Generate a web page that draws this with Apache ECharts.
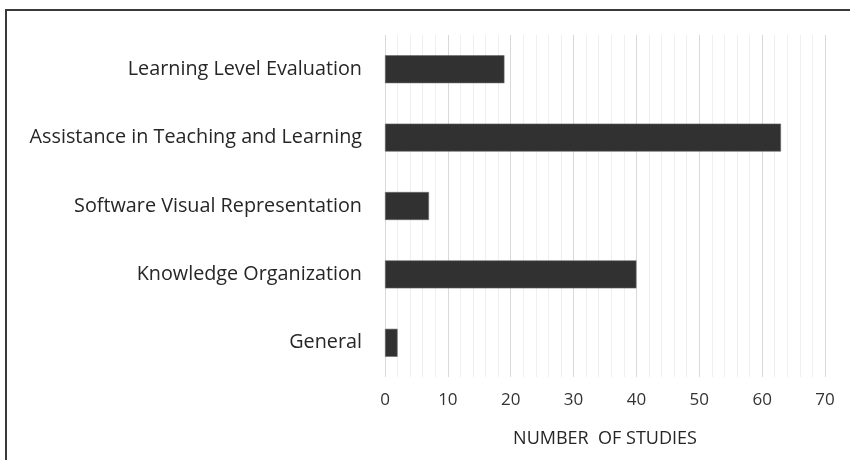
<!DOCTYPE html>
<html>
<head>
<meta charset="utf-8">
<script src="https://cdn.jsdelivr.net/npm/echarts@6/dist/echarts.min.js"></script>
<style>
  html, body { margin: 0; padding: 0; background: #fff; }
  #chart { width: 850px; height: 460px; }
</style>
</head>
<body>
<div id="chart"></div>
<script>
// categories top to bottom
var categories = [
  'Learning Level Evaluation',
  'Assistance in Teaching and Learning',
  'Software Visual Representation',
  'Knowledge Organization',
  'General'
];
var studies = [19, 63, 7, 40, 2];

var font = 'Open Sans';

var option = {
  backgroundColor: '#fff',
  animation: false,
  graphic: [{
    type: 'rect',
    shape: { x: 6, y: 10, width: 900, height: 500 },
    style: { fill: 'none', stroke: '#3a3a3a', lineWidth: 2 },
    silent: true
  }],
  grid: {
    left: 385,
    right: 25,
    top: 35,
    bottom: 83
  },
  xAxis: {
    type: 'value',
    min: 0,
    max: 70,
    interval: 10,
    name: 'NUMBER  OF STUDIES',
    nameLocation: 'middle',
    nameGap: 53,
    nameTextStyle: { color: '#262626', fontSize: 18, fontFamily: font },
    axisLine: { show: false },
    axisTick: { show: false },
    axisLabel: { color: '#333', fontSize: 17, fontFamily: font, margin: 15 },
    splitLine: { show: true, lineStyle: { color: '#d9d9d9', width: 1 } },
    minorTick: { show: false, splitNumber: 5 },
    minorSplitLine: { show: true, lineStyle: { color: '#efefef', width: 1 } }
  },
  yAxis: {
    type: 'category',
    data: categories,
    inverse: true,
    axisLine: { show: false },
    axisTick: { show: false },
    axisLabel: { color: '#262626', fontSize: 19.8, fontFamily: font, margin: 23 },
    splitLine: { show: false }
  },
  series: [{
    type: 'bar',
    data: studies,
    barWidth: 28,
    itemStyle: { color: '#313131', borderColor: '#6a6a6a', borderWidth: 0.6 }
  }]
};

var chart = echarts.init(document.getElementById('chart'));
chart.setOption(option);
</script>
</body>
</html>
